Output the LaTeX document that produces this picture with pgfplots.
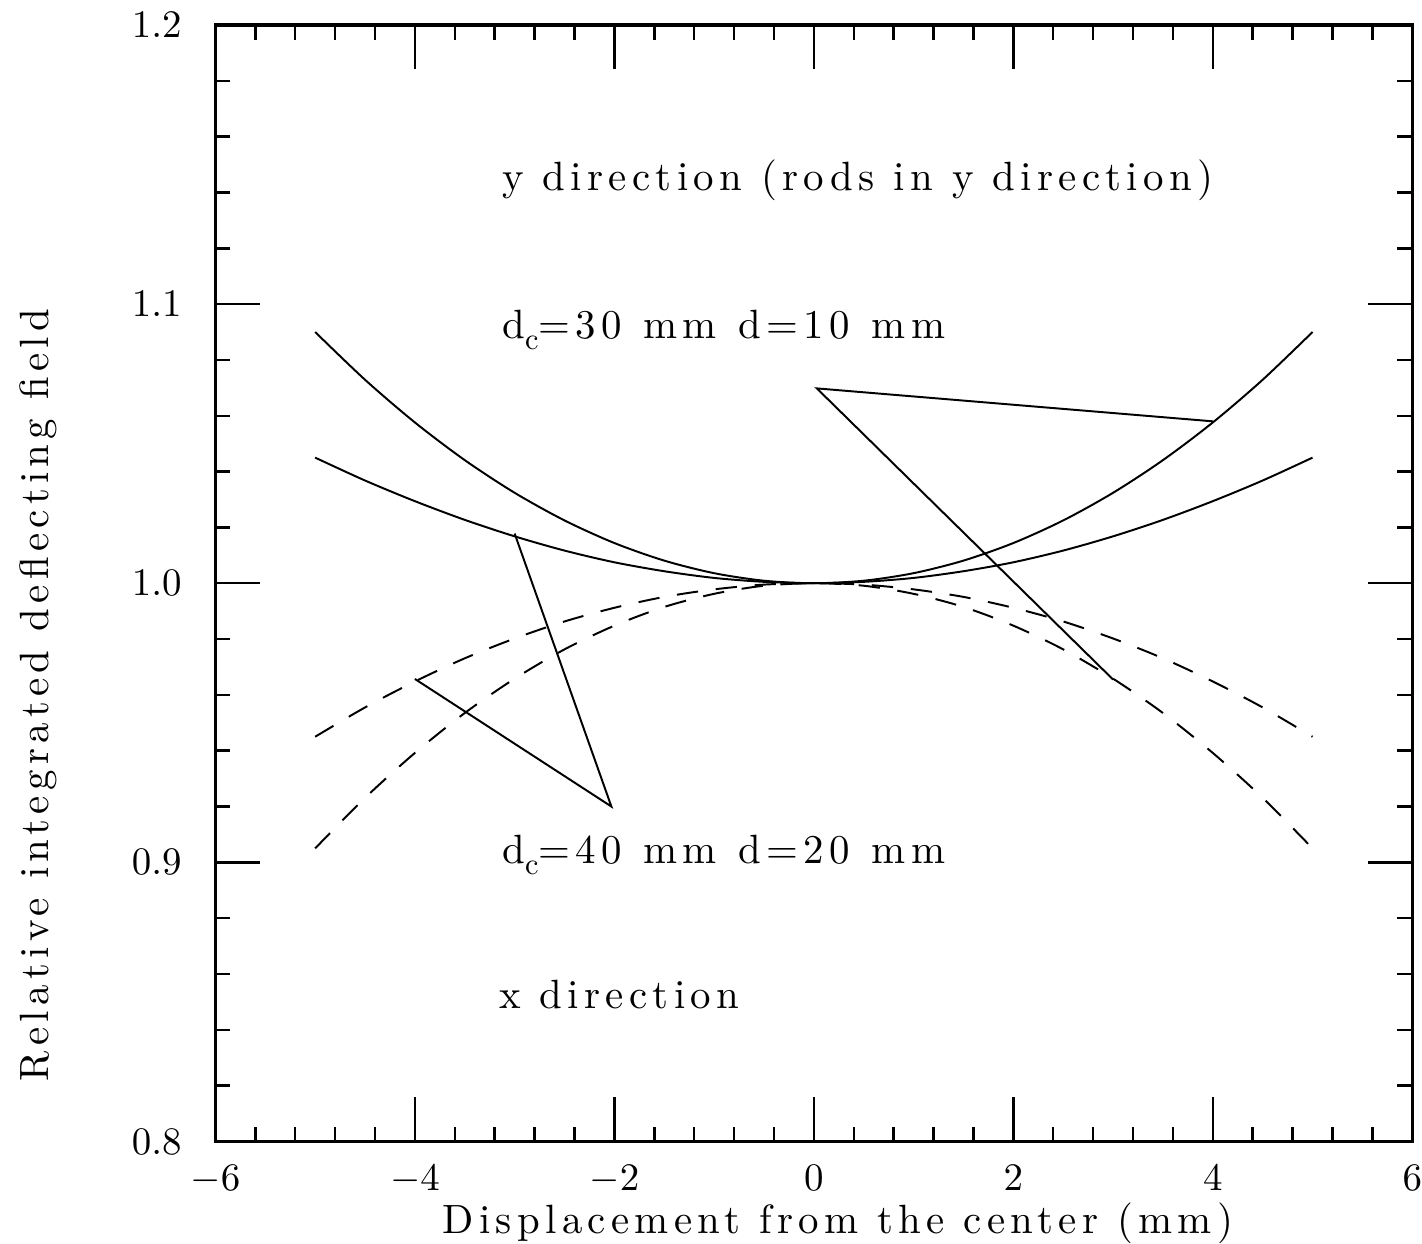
\documentclass[border=0pt]{standalone}
\usepackage{fontspec}
\usepackage{pgfplots}
\pgfplotsset{compat=1.18}

% letter-spaced Latin Modern, like the old plotter font
\newfontfamily\lbfont{lmroman10-regular}[Extension=.otf, LetterSpace=13]
\newfontfamily\txfont{lmroman10-regular}[Extension=.otf, LetterSpace=13]
\newcommand\lbl{\lbfont\fontsize{11.5}{14}\selectfont}
\newcommand\txt{\txfont\fontsize{11.5}{13}\selectfont}
\newcommand\dc{d\raisebox{-0.65ex}{\fontsize{8.5}{8.5}\selectfont c}}
\newcommand\wsp{\hspace{0.53em}}

\pgfplotstableread{
x      y
-5.0   1.0900
-4.5   1.0729
-4.0   1.0576
-3.5   1.0441
-3.0   1.0324
-2.5   1.0225
-2.0   1.0144
-1.5   1.0081
-1.0   1.0036
-0.5   1.0009
 0.0   1.0000
 0.5   1.0009
 1.0   1.0036
 1.5   1.0081
 2.0   1.0144
 2.5   1.0225
 3.0   1.0324
 3.5   1.0441
 4.0   1.0576
 4.5   1.0729
 5.0   1.0900
}\ya

\pgfplotstableread{
x      y
-5.0   1.0450
-4.5   1.0368
-4.0   1.0294
-3.5   1.0227
-3.0   1.0168
-2.5   1.0117
-2.0   1.0075
-1.5   1.0043
-1.0   1.0019
-0.5   1.0005
 0.0   1.0000
 0.5   1.0005
 1.0   1.0019
 1.5   1.0043
 2.0   1.0075
 2.5   1.0117
 3.0   1.0168
 3.5   1.0227
 4.0   1.0294
 4.5   1.0368
 5.0   1.0450
}\yb

\pgfplotstableread{
x      y
-5.0   0.9450
-4.5   0.9555
-4.0   0.9648
-3.5   0.9731
-3.0   0.9802
-2.5   0.9863
-2.0   0.9912
-1.5   0.9951
-1.0   0.9978
-0.5   0.9995
 0.0   1.0000
 0.5   0.9995
 1.0   0.9978
 1.5   0.9951
 2.0   0.9912
 2.5   0.9863
 3.0   0.9802
 3.5   0.9731
 4.0   0.9648
 4.5   0.9555
 5.0   0.9450
}\xa

\pgfplotstableread{
x      y
-5.0   0.9050
-4.5   0.9231
-4.0   0.9392
-3.5   0.9535
-3.0   0.9658
-2.5   0.9763
-2.0   0.9848
-1.5   0.9915
-1.0   0.9962
-0.5   0.9991
 0.0   1.0000
 0.5   0.9991
 1.0   0.9962
 1.5   0.9915
 2.0   0.9848
 2.5   0.9763
 3.0   0.9658
 3.5   0.9535
 4.0   0.9392
 4.5   0.9231
 5.0   0.9050
}\xb

\begin{document}
\begin{tikzpicture}
\begin{axis}[
    scale only axis,
    width=336.6pt, height=314pt,
    xmin=-6, xmax=6, ymin=0.8, ymax=1.2,
    xtick={-6,-4,...,6},
    ytick={0.8,0.9,1.0,1.1,1.2},
    minor x tick num=4, minor y tick num=4,
    tick align=inside,
    major tick length=12.5pt, minor tick length=4.2pt,
    every tick/.style={black, line width=0.7pt},
    axis line style={line width=0.9pt},
    ticklabel style={font=\fontsize{11}{13}\selectfont, inner sep=0pt},
    yticklabel style={/pgf/number format/.cd, fixed, fixed zerofill, precision=1, /tikz/.cd, xshift=-9.3pt},
    xticklabel style={yshift=-6.5pt},
    xlabel={\lbl Displacement from the center (mm)},
    ylabel={\lbl Relative integrated deflecting field},
    xlabel style={at={(axis description cs:0.52,-0.073)}, anchor=center, inner sep=0pt},
    ylabel style={at={(axis description cs:-0.132,0.4)}, anchor=south, inner sep=0pt},
    clip=false,
    every axis plot/.append style={black, line width=0.55pt},
]
% keep the reference's white margin at left and top
\path (axis description cs:-0.18,1.0224);

% y direction (rods in y direction)
\addplot[smooth] table[x=x, y=y] {\ya};
\addplot[smooth] table[x=x, y=y] {\yb};
% x direction
\addplot[smooth, dash pattern=on 6pt off 5pt] table[x=x, y=y] {\xa};
\addplot[smooth, dash pattern=on 6pt off 5pt] table[x=x, y=y] {\xb};

% pointer lines
\addplot[black, solid, no marks] coordinates {(4.0,1.058) (0.03,1.0698) (3.0,0.9655)};
\addplot[black, solid, no marks] coordinates {(-3.0,1.0178) (-2.03,0.920) (-4.0,0.9657)};

\node[anchor=base west, inner sep=0pt] at (axis cs:-3.13,1.1408) {\txt y direction (rods in y direction)};
\node[anchor=base west, inner sep=0pt] at (axis cs:-3.13,1.0877) {\txt \dc=30\wsp mm\wsp d=10\wsp mm};
\node[anchor=base west, inner sep=0pt] at (axis cs:-3.13,0.8997) {\txt \dc=40\wsp mm\wsp d=20\wsp mm};
\node[anchor=base west, inner sep=0pt] at (axis cs:-3.16,0.8477) {\txt x direction};
\end{axis}
\end{tikzpicture}
\end{document}
